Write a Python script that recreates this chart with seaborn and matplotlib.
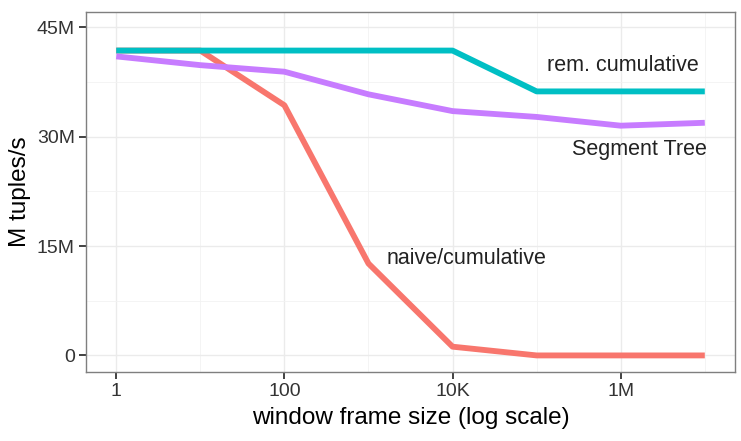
import numpy as np
import pandas as pd
import matplotlib
matplotlib.use("Agg")
import matplotlib.pyplot as plt
import seaborn as sns
from matplotlib.ticker import FixedLocator, FuncFormatter

# window frame sizes (log scale)
frame_sizes = [1, 10, 100, 1000, 10000, 100000, 1000000, 10000000]

# throughput in M tuples/s
naive = [41.8, 41.8, 34.3, 12.6, 1.2, 0.0, 0.0, 0.0]
rem_cumulative = [41.8, 41.8, 41.8, 41.8, 41.8, 36.2, 36.2, 36.2]
segment_tree = [41.0, 39.8, 38.9, 35.8, 33.5, 32.7, 31.5, 31.9]

series_names = ["naive/cumulative", "rem. cumulative", "Segment Tree"]
series_colors = ["#F8766D", "#00BFC4", "#C77CFF"]

x_ticks = [1, 100, 10000, 1000000]
x_tick_labels = ["1", "100", "10K", "1M"]
y_ticks = [0, 15, 30, 45]
y_tick_labels = ["0", "15M", "30M", "45M"]

# long table for seaborn
rows = []
for name, vals in zip(series_names, [naive, rem_cumulative, segment_tree]):
    for x, v in zip(frame_sizes, vals):
        rows.append({"size": x, "tput": v, "algo": name})
df = pd.DataFrame(rows)

sns.set_theme(style="whitegrid")
plt.rcParams["font.family"] = ["Liberation Sans", "DejaVu Sans"]

fig = plt.figure(figsize=(7.41, 4.41), dpi=100)
ax = fig.add_axes([0.116, 0.156, 0.876, 0.817])

sns.lineplot(data=df, x="size", y="tput", hue="algo", hue_order=series_names,
             palette=series_colors, linewidth=4.2, legend=False, ax=ax,
             solid_capstyle="butt")

ax.set_xscale("log")
ax.set_xlim(10 ** -0.36, 10 ** 7.36)
ax.set_ylim(-2.3, 47.1)

ax.xaxis.set_major_locator(FixedLocator(x_ticks))
ax.xaxis.set_major_formatter(FuncFormatter(lambda v, p: x_tick_labels[x_ticks.index(v)] if v in x_ticks else ""))
ax.xaxis.set_minor_locator(FixedLocator([10, 1000, 100000, 10000000]))
ax.xaxis.set_minor_formatter(FuncFormatter(lambda v, p: ""))
ax.yaxis.set_major_locator(FixedLocator(y_ticks))
ax.set_yticklabels(y_tick_labels)
ax.yaxis.set_minor_locator(FixedLocator([7.5, 22.5, 37.5]))

ax.grid(which="major", color="#EBEBEB", linewidth=1.0)
ax.grid(which="minor", color="#F2F2F2", linewidth=0.6)
ax.set_axisbelow(True)

for s in ax.spines.values():
    s.set_color("#7F7F7F")
    s.set_linewidth(1.0)

ax.tick_params(which="major", direction="out", length=5, width=1.3, color="#333333",
               labelsize=14, labelcolor="#333333", pad=3, bottom=True, left=True)
ax.tick_params(which="minor", length=0)

ax.set_xlabel("window frame size (log scale)", fontsize=17.5, color="black", labelpad=5)
ax.set_ylabel("M tuples/s", fontsize=17.5, color="black", labelpad=4)

ax.text(10 ** 6.93, 39.8, "rem. cumulative", ha="right", va="center", fontsize=15.5, color="#222222")
ax.text(10 ** 7.02, 28.3, "Segment Tree", ha="right", va="center", fontsize=15.5, color="#222222")
ax.text(10 ** 3.21, 13.3, "naive/cumulative", ha="left", va="center", fontsize=15.5, color="#222222")

fig.savefig("out.png", dpi=100)
